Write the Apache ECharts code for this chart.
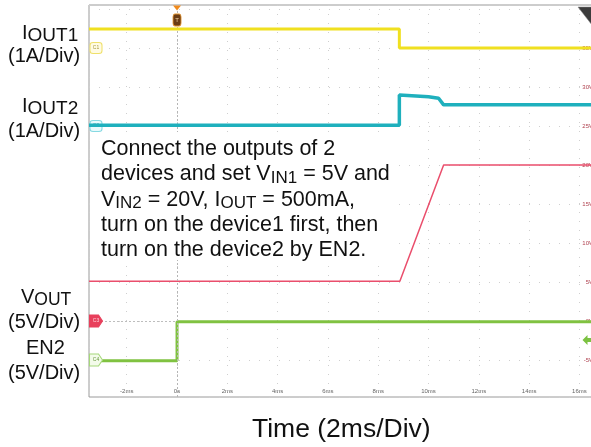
<!DOCTYPE html>
<html><head><meta charset="utf-8">
<script src="https://cdn.jsdelivr.net/npm/echarts@6/dist/echarts.min.js"></script>
<style>html,body{margin:0;padding:0;background:#fff;}#c{width:591px;height:447px;}</style>
</head><body><div id="c"></div>
<script>
// ---- data (screen scale: right-hand axis, 5 units per division; time in ms) ----
const iout1T = [-3.5, 8.84, 8.84, 16.5];
const iout1V = [37.44, 37.44, 35.0, 35.0];
const iout2T = [-3.5, 8.84, 8.84, 9.5, 10.0, 10.4, 10.6, 16.5];
const iout2V = [25.1, 25.1, 28.95, 28.85, 28.75, 28.55, 27.7, 27.7];
const voutT = [-3.5, 8.86, 10.6, 16.5];
const voutV = [5.1, 5.1, 20.0, 20.0];
const en2T = [-3.5, 0, 0, 16.5];
const en2V = [-5.1, -5.1, -0.1, -0.1];
const chNames = ['C1', 'C2', 'C3', 'C4'];
const chRefs = [35, 25, 0, -5];
const trigLevel = -2.45;
const annotationLines = [
  '{n|Connect the outputs of 2}',
  '{n|devices and set V}{s|IN1}{n| = 5V and}',
  '{n|V}{s|IN2}{n| = 20V, I}{s|OUT}{n| = 500mA,}',
  '{n|turn on the device1 first, then}',
  '{n|turn on the device2 by EN2.}'
];

const zip = (t, v) => t.map((x, i) => [x, v[i]]);
const FONT = '"Liberation Sans", Arial, sans-serif';
const XMIN = -3.5, XMAX = 16.5, YMIN = -9.74, YMAX = 40.5;

const chart = echarts.init(document.getElementById('c'), null, {renderer: 'canvas'});

const pill = 'roundRect';
const pent = 'path://M0,0 L9,0 L13,6 L9,12 L0,12 Z';
const badgeStyles = [
  {symbol: pill, size: [12, 11], fill: '#fffbe3', border: '#efe06a', text: '#a89a40'},
  {symbol: pill, size: [12, 11], fill: '#e8fafc', border: '#86d9e2', text: '#4a9aa5'},
  {symbol: pent, size: [13, 12], fill: '#e8405c', border: '#e8405c', text: '#ffd0d8'},
  {symbol: pent, size: [13, 12], fill: '#f3fbea', border: '#a6d87a', text: '#6a9a40'}
];
function badge(i) {
  const b = badgeStyles[i];
  return {
    coord: [XMIN, chRefs[i]], symbol: b.symbol, symbolSize: b.size, symbolOffset: [7, 0],
    itemStyle: {color: b.fill, borderColor: b.border, borderWidth: 1},
    label: {show: true, formatter: chNames[i], fontSize: 5, color: b.text, fontFamily: FONT}
  };
}
const subRich = (nSize, sSize, sLH) => ({
  n: {fontSize: nSize, fontFamily: FONT, fill: '#111', lineHeight: 24, verticalAlign: 'middle'},
  s: {fontSize: sSize, fontFamily: FONT, fill: '#111', lineHeight: sLH, verticalAlign: 'bottom'}
});

const option = {
  animation: false,
  backgroundColor: '#fff',
  grid: {left: 89, top: 5, right: -1, bottom: 50, show: true, borderColor: '#9a9a9a', borderWidth: 1,
    containLabel: false, outerBoundsMode: 'none'},
  xAxis: {
    type: 'value', min: XMIN, max: XMAX, splitNumber: 10,
    axisLine: {show: false}, axisTick: {show: false},
    axisLabel: {inside: true, margin: 3, fontSize: 6, color: '#666', fontFamily: FONT,
      showMinLabel: false, showMaxLabel: false,
      formatter: v => v === 0 ? '0s' : v + 'ms'},
    splitLine: {show: true, lineStyle: {color: '#cfcfcf', type: [1, 8], width: 1}}
  },
  yAxis: {
    type: 'value', min: YMIN, max: YMAX, splitNumber: 10, position: 'right',
    axisLine: {show: false}, axisTick: {show: false},
    axisLabel: {inside: true, margin: -1, fontSize: 6, color: '#b0404e', fontFamily: FONT,
      showMinLabel: false, showMaxLabel: false,
      formatter: v => (v % 5 === 0 && v < 40) ? v + 'V' : ''},
    splitLine: {show: true, lineStyle: {color: '#cfcfcf', type: [1, 9], width: 1}}
  },
  series: [
    {
      name: 'EN2', type: 'line', data: zip(en2T, en2V), symbol: 'none', z: 3,
      lineStyle: {color: '#80c241', width: 3},
      markLine: {
        silent: true, symbol: 'none', label: {show: false},
        data: [
          {xAxis: 0, lineStyle: {color: '#b5b5b5', type: [2, 2], width: 1}},
          [{coord: [XMIN, 0], lineStyle: {color: '#bdbdbd', type: [2, 2], width: 1}}, {coord: [0, 0]}]
        ]
      },
      markPoint: {
        silent: true,
        data: [
          badge(3),
          {coord: [XMAX, trigLevel], symbol: 'path://M0,5 L5,0 L5,3 L9,3 L9,7 L5,7 L5,10 Z', symbolSize: [9, 10],
            symbolOffset: [-5, 0], itemStyle: {color: '#7cc242'}, label: {show: false}}
        ]
      }
    },
    {
      name: 'VOUT', type: 'line', data: zip(voutT, voutV), symbol: 'none', z: 4,
      lineStyle: {color: '#ea4e6c', width: 1.5},
      markPoint: {silent: true, data: [badge(2)]}
    },
    {
      name: 'IOUT2', type: 'line', data: zip(iout2T, iout2V), symbol: 'none', z: 5,
      lineStyle: {color: '#1fb0bd', width: 3.5},
      markPoint: {silent: true, data: [badge(1)]}
    },
    {
      name: 'IOUT1', type: 'line', data: zip(iout1T, iout1V), symbol: 'none', z: 6,
      lineStyle: {color: '#f0e020', width: 3},
      markPoint: {
        silent: true,
        data: [
          badge(0),
          {coord: [0, YMAX], symbol: 'triangle', symbolRotate: 180, symbolSize: [8, 5], symbolOffset: [0, 3],
            itemStyle: {color: '#f08a1c'}, label: {show: false}},
          {coord: [0, YMAX], symbol: 'roundRect', symbolSize: [8, 12], symbolOffset: [0, 15],
            itemStyle: {color: '#6a3c14', borderColor: '#e0902a', borderWidth: 1},
            label: {show: true, formatter: 'T', fontSize: 6, color: '#f0d0a0', fontFamily: FONT}},
          {coord: [XMAX, YMAX], symbol: 'path://M0,0 L14,0 L14,18 Z', symbolSize: [14, 18], symbolOffset: [-7, 11],
            itemStyle: {color: '#3c3c3c', borderColor: '#888', borderWidth: 0.5}, label: {show: false}}
        ]
      }
    }
  ],
  graphic: [
    {type: 'rect', left: 95, top: 132, shape: {width: 300, height: 128}, style: {fill: '#fff'}, z: 50, silent: true},
    {
      type: 'text', left: 101, top: 138, z: 60, silent: true,
      style: {
        text: annotationLines.join('\n'),
        rich: {
          n: {fontSize: 21.5, fontFamily: FONT, fill: '#111', lineHeight: 25.3, verticalAlign: 'middle'},
          s: {fontSize: 17, fontFamily: FONT, fill: '#111', lineHeight: 7, verticalAlign: 'bottom'}
        }
      }
    },
    {type: 'text', left: 22, top: 23, z: 60, style: {text: '{n|I}{s|OUT1}', rich: subRich(20, 19, 9)}},
    {type: 'text', left: 8, top: 46, z: 60, style: {text: '(1A/Div)', fontSize: 20, fontFamily: FONT, fill: '#111'}},
    {type: 'text', left: 22, top: 96, z: 60, style: {text: '{n|I}{s|OUT2}', rich: subRich(20, 19, 9)}},
    {type: 'text', left: 8, top: 121, z: 60, style: {text: '(1A/Div)', fontSize: 20, fontFamily: FONT, fill: '#111'}},
    {type: 'text', left: 21, top: 287, z: 60, style: {text: '{n|V}{s|OUT}', rich: subRich(20, 17.5, 9)}},
    {type: 'text', left: 8, top: 312, z: 60, style: {text: '(5V/Div)', fontSize: 20, fontFamily: FONT, fill: '#111'}},
    {type: 'text', left: 26, top: 338, z: 60, style: {text: 'EN2', fontSize: 20, fontFamily: FONT, fill: '#111'}},
    {type: 'text', left: 8, top: 363, z: 60, style: {text: '(5V/Div)', fontSize: 20, fontFamily: FONT, fill: '#111'}},
    {type: 'text', left: 252, top: 416, z: 60, style: {text: 'Time (2ms/Div)', fontSize: 26.5, fontFamily: FONT, fill: '#111'}}
  ]
};
chart.setOption(option);
</script>
</body></html>
